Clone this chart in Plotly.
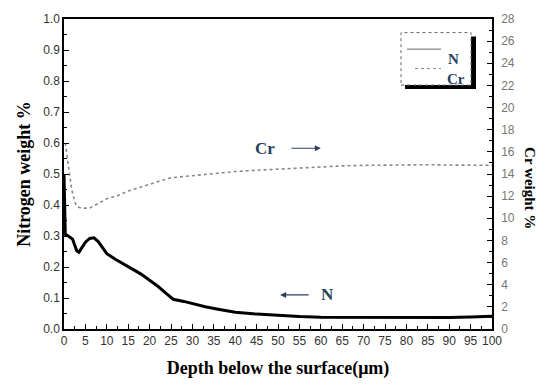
import plotly.graph_objects as go

# Nitrogen profile (wt %) vs depth below the surface (µm)
n_depth = [0.0, 0.3, 1.0, 2.0, 2.5, 3.0, 3.5, 4.0, 5.0, 6.0, 7.0, 8.0, 9.0, 10.0,
           12.0, 14.0, 16.0, 18.0, 20.0, 22.0, 24.0, 25.5, 28.0, 30.0, 33.0,
           36.0, 40.0, 45.0, 50.0, 55.0, 60.0, 70.0, 80.0, 90.0, 95.0, 100.0]
n_weight = [0.50, 0.305, 0.300, 0.290, 0.270, 0.252, 0.248, 0.258, 0.280, 0.292,
            0.294, 0.282, 0.262, 0.243, 0.225, 0.208, 0.193, 0.177, 0.158, 0.137,
            0.113, 0.096, 0.089, 0.082, 0.072, 0.064, 0.054, 0.048, 0.043, 0.040,
            0.038, 0.037, 0.037, 0.037, 0.039, 0.041]

# Chromium profile (wt %) vs depth below the surface (µm)
cr_depth = [0.3, 1.0, 1.8, 2.5, 3.0, 4.0, 6.0, 8.0, 10.0, 12.5, 15.0, 18.0, 20.0,
            22.5, 25.0, 30.0, 35.0, 40.0, 45.0, 50.0, 55.0, 60.0, 65.0, 70.0,
            75.0, 80.0, 85.0, 90.0, 95.0, 100.0]
cr_weight = [16.8, 14.6, 12.6, 11.5, 11.06, 10.92, 10.92, 11.34, 11.76, 12.04,
             12.46, 12.82, 13.10, 13.38, 13.66, 13.86, 14.08, 14.22, 14.34, 14.45,
             14.56, 14.64, 14.73, 14.78, 14.81, 14.81, 14.84, 14.81, 14.78, 14.78]

x_ticks = list(range(0, 101, 5))
n_ticks = [round(i * 0.1, 1) for i in range(11)]
cr_ticks = list(range(0, 29, 2))

W, H = 547, 387
L, R, T, B = 64, 55, 12, 56
PW, PH = W - L - R, H - T - B

def px(x):
    return (x - L) / PW

def py(y):
    return (H - B - y) / PH

serif = "Liberation Serif, Times New Roman"
tick_font = dict(family="Liberation Sans, Arial", size=12, color="#333")
title_font = dict(family=serif, size=18, color="black")

fig = go.Figure()
fig.add_trace(go.Scatter(x=n_depth, y=n_weight, mode="lines", name="N",
                         line=dict(color="black", width=3), showlegend=False))
fig.add_trace(go.Scatter(x=cr_depth, y=cr_weight, mode="lines", name="Cr", yaxis="y2",
                         line=dict(color="#888", width=1.6, dash="dot"), showlegend=False))

fig.update_layout(
    width=W, height=H,
    margin=dict(l=L, r=R, t=T, b=B),
    paper_bgcolor="white", plot_bgcolor="white",
    xaxis=dict(range=[0, 100], tickvals=x_ticks, ticks="inside", ticklen=5,
               tickcolor="black", showline=True, linecolor="black", linewidth=1.5,
               mirror=True, showgrid=False, zeroline=False, tickfont=tick_font,
               minor=dict(dtick=2.5, ticks="inside", ticklen=3, tickcolor="black"),
               title=dict(text="<b>Depth below the surface(μm)</b>", font=title_font,
                          standoff=14)),
    yaxis=dict(range=[0, 1], tickvals=n_ticks, tickformat=".1f", ticks="inside",
               ticklen=5, tickcolor="black", showline=True, linecolor="black",
               linewidth=1.5, showgrid=False, zeroline=False, tickfont=tick_font,
               minor=dict(dtick=0.05, ticks="inside", ticklen=3, tickcolor="black"),
               title=dict(text="<b>Nitrogen weight %</b>", font=title_font, standoff=8)),
    yaxis2=dict(range=[0, 28], tickvals=cr_ticks, overlaying="y", side="right",
                ticks="inside", ticklen=5, tickcolor="black", showline=True,
                linecolor="black", linewidth=1.5, showgrid=False, zeroline=False,
                ticklabelstandoff=5,
                tickfont=dict(family="Liberation Sans, Arial", size=12, color="#777"),
                minor=dict(dtick=1, ticks="inside", ticklen=3, tickcolor="black")),
)

# Right-hand axis title, reading top to bottom
fig.add_annotation(x=px(530), y=py(186), xref="paper", yref="paper",
                   xanchor="center", yanchor="middle", xshift=0,
                   text="<b>Cr weight %</b>", textangle=90, showarrow=False,
                   font=dict(family=serif, size=15, color="black"))

# Curve labels with arrows
fig.add_annotation(x=47, y=0.583, text="<b>Cr</b>", showarrow=False,
                   font=dict(family=serif, size=17))
fig.add_annotation(x=60, y=0.583, ax=52.8, ay=0.583, axref="x", ayref="y",
                   text="", showarrow=True, arrowhead=2, arrowsize=1, arrowwidth=1.2)
fig.add_annotation(x=61.5, y=0.11, text="<b>N</b>", showarrow=False,
                   font=dict(family=serif, size=17))
fig.add_annotation(x=50.5, y=0.11, ax=57.5, ay=0.11, axref="x", ayref="y",
                   text="", showarrow=True, arrowhead=2, arrowsize=1, arrowwidth=1.2)

# Legend box with drop shadow
fig.add_shape(type="rect", xref="paper", yref="paper",
              x0=px(405), x1=px(476), y0=py(84), y1=py(30),
              fillcolor="black", line=dict(width=0))
fig.add_shape(type="rect", xref="paper", yref="paper",
              x0=px(401), x1=px(471), y0=py(80), y1=py(26),
              fillcolor="white", line=dict(color="#666", width=1, dash="dot"))
fig.add_shape(type="line", xref="paper", yref="paper",
              x0=px(407), x1=px(441), y0=py(43), y1=py(43),
              line=dict(color="#666", width=1))
fig.add_shape(type="line", xref="paper", yref="paper",
              x0=px(415), x1=px(441), y0=py(63), y1=py(63),
              line=dict(color="#888", width=1, dash="dot"))
fig.add_annotation(x=px(446), y=py(43), xref="paper", yref="paper", xanchor="left",
                   text="<b>N</b>", showarrow=False,
                   font=dict(family=serif, size=15))
fig.add_annotation(x=px(445), y=py(63), xref="paper", yref="paper", xanchor="left",
                   text="<b>Cr</b>", showarrow=False,
                   font=dict(family=serif, size=15))

fig.write_html("out.html")
